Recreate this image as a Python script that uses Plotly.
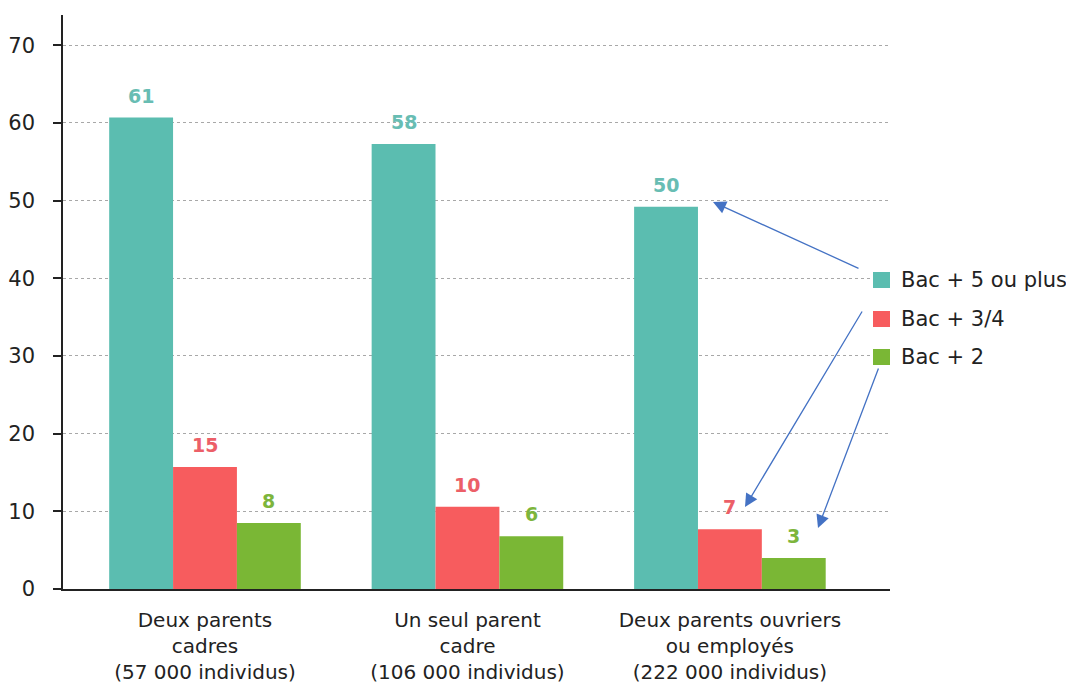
import plotly.graph_objects as go

# ---- data ----
categories = ["Deux parents<br>cadres<br>(57 000 individus)",
              "Un seul parent<br>cadre<br>(106 000 individus)",
              "Deux parents ouvriers<br>ou employés<br>(222 000 individus)"]
series_names = ["Bac + 5 ou plus", "Bac + 3/4", "Bac + 2"]
bac5_values = [60.7, 57.3, 49.2]
bac34_values = [15.7, 10.6, 7.7]
bac2_values = [8.5, 6.8, 4.0]
bac5_labels = ["61", "58", "50"]
bac34_labels = ["15", "10", "7"]
bac2_labels = ["8", "6", "3"]
y_ticks = [0, 10, 20, 30, 40, 50, 60, 70]

bar_colors = ["#5BBDB0", "#F75C5E", "#7AB735"]
label_colors = ["#68BDB3", "#EC5F68", "#7DB53C"]

series_values = [bac5_values, bac34_values, bac2_values]
series_labels = [bac5_labels, bac34_labels, bac2_labels]

FONT = "DejaVu Sans"
TXT = "#222222"

OFF = 8  # page body margin
W, H = 1074 - OFF, 686 - OFF
L, T = 63 - OFF, 15 - OFF
PW = 890 - 63
PH = 589 - 15
R = W - L - PW
B = H - T - PH
BARGAP = 0.27

def px_x(p):
    return (p - OFF - L) / PW

def px_y(p):
    return (T + PH - (p - OFF)) / PH

x_idx = list(range(len(categories)))

fig = go.Figure()
for k, (name, vals) in enumerate(zip(series_names, series_values)):
    fig.add_trace(go.Bar(
        x=x_idx, y=vals, name=name,
        marker=dict(color=bar_colors[k], line=dict(width=0)),
        showlegend=False,
    ))

annotations = []
n = len(series_names)
bw = (1 - BARGAP) / n
for k in range(n):
    for i in x_idx:
        annotations.append(dict(
            x=i + (k - (n - 1) / 2) * bw, y=series_values[k][i],
            xref="x", yref="y", text="<b>%s</b>" % series_labels[k][i],
            showarrow=False, yanchor="middle", yshift=22,
            font=dict(family=FONT, size=19, color=label_colors[k]),
        ))

# custom legend
legend_y = [280, 319, 357]
shapes = []
for k, name in enumerate(series_names):
    cy = legend_y[k]
    shapes.append(dict(type="rect", xref="paper", yref="paper",
                       x0=px_x(873), x1=px_x(890), y0=px_y(cy + 8), y1=px_y(cy - 8),
                       fillcolor=bar_colors[k], line=dict(width=0)))
    annotations.append(dict(x=px_x(899), y=px_y(cy), xref="paper", yref="paper",
                            text=name, showarrow=False, xanchor="left", yanchor="middle",
                            font=dict(family=FONT, size=21, color=TXT)))

# arrows (tip, tail) in page pixels
arrows = [((713, 202), (860, 269)), ((745, 507), (863, 310)), ((818, 528), (879, 367))]
for (tx, ty), (sx, sy) in arrows:
    annotations.append(dict(x=px_x(tx), y=px_y(ty), xref="paper", yref="paper",
                            ax=sx - tx, ay=sy - ty, axref="pixel", ayref="pixel",
                            text="", showarrow=True, arrowhead=2, arrowsize=2,
                            arrowwidth=1.3, arrowcolor="#4472C4", standoff=0))

fig.update_layout(
    width=W, height=H,
    margin=dict(l=L, r=R, t=T, b=B, autoexpand=False),
    paper_bgcolor="white", plot_bgcolor="white",
    barmode="group", bargap=BARGAP, bargroupgap=0,
    annotations=annotations, shapes=shapes,
    font=dict(family=FONT, color=TXT),
)
fig.update_xaxes(
    range=[-0.541, 2.61], tickvals=x_idx, ticktext=categories,
    showgrid=False, zeroline=False, automargin=False,
    showline=True, linecolor=TXT, linewidth=2,
    ticks="", ticklabelstandoff=12,
    tickfont=dict(family=FONT, size=20, color=TXT),
)
fig.update_yaxes(
    range=[0, 73.9], tickvals=y_ticks,
    showgrid=True, gridcolor="#A8A8A8", griddash="dot", gridwidth=1,
    zeroline=False, automargin=False,
    showline=True, linecolor=TXT, linewidth=1.5,
    ticks="outside", ticklen=8, tickcolor=TXT, tickwidth=1.5,
    ticklabelstandoff=14,
    tickfont=dict(family=FONT, size=21, color=TXT),
)

fig.write_html("out.html")
